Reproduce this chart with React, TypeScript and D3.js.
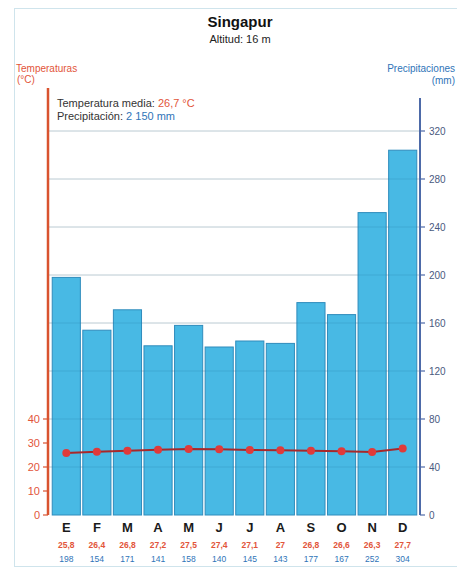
import React from 'react';
import * as d3 from 'd3';

const months = ['E', 'F', 'M', 'A', 'M', 'J', 'J', 'A', 'S', 'O', 'N', 'D'];
const precipitation = [198, 154, 171, 141, 158, 140, 145, 143, 177, 167, 252, 304];
const temperature = [25.8, 26.4, 26.8, 27.2, 27.5, 27.4, 27.1, 27, 26.8, 26.6, 26.3, 27.7];
const tempLabels = ['25,8', '26,4', '26,8', '27,2', '27,5', '27,4', '27,1', '27', '26,8', '26,6', '26,3', '27,7'];
const precipTicks = [0, 40, 80, 120, 160, 200, 240, 280, 320];
const tempTicks = [0, 10, 20, 30, 40];

const W = 457;
const H = 570;
const font = '"Liberation Sans", Arial, sans-serif';
const RED = '#e2553a';
const BLUE = '#2f74b8';

export default function App() {
  const baseY = 515;
  const x = d3.scaleBand<number>()
    .domain(d3.range(12))
    .range([51, 418])
    .paddingInner(0.08)
    .paddingOuter(0.04);
  const yP = d3.scaleLinear().domain([0, 320]).range([baseY, 131]);
  // 1 °C = 2 mm
  const yT = d3.scaleLinear().domain([0, 40]).range([baseY, yP(80)]);

  const line = d3.line<number>()
    .x((_, i) => x(i)! + x.bandwidth() / 2)
    .y(d => yT(d));

  const leftX = 48;
  const rightX = 420;

  return (
    <svg width={W} height={H} style={{ position: 'absolute', left: 0, top: 0, background: '#fff' }}
      fontFamily={font}>
      <rect x={14.5} y={8.5} width={460} height={558} fill="none" stroke="#cfe4ec" strokeWidth={1} />

      <text x={240} y={27} textAnchor="middle" fontSize={15} fontWeight="bold" fill="#111">Singapur</text>
      <text x={240} y={43} textAnchor="middle" fontSize={11} fill="#222">Altitud: 16 m</text>

      <text x={16} y={72} fontSize={10} fill={RED}>Temperaturas</text>
      <text x={17} y={83} fontSize={10} fill={RED}>(°C)</text>
      <text x={455} y={72} fontSize={10} fill={BLUE} textAnchor="end">Precipitaciones</text>
      <text x={455} y={84} fontSize={10} fill={BLUE} textAnchor="end">(mm)</text>

      {/* grid lines */}
      {precipTicks.filter(t => t > 0).map(t => (
        <line key={'g' + t} x1={leftX} x2={rightX} y1={yP(t)} y2={yP(t)} stroke="#e4e4e4" strokeWidth={1} />
      ))}

      {/* bars */}
      {precipitation.map((p, i) => (
        <rect key={'b' + i} x={x(i)} y={yP(p)} width={x.bandwidth()} height={baseY - yP(p)}
          fill="#48b9e4" stroke="#2f8cbc" strokeWidth={1} />
      ))}

      {/* grid lines over bars */}
      {precipTicks.filter(t => t > 0).map(t => (
        <line key={'go' + t} x1={leftX} x2={rightX} y1={yP(t)} y2={yP(t)} stroke="#1f6f99" strokeOpacity={0.2} strokeWidth={1} />
      ))}

      <text x={57} y={107} fontSize={11} fill="#333">
        Temperatura media: <tspan fill={RED}>26,7 °C</tspan>
      </text>
      <text x={57} y={120} fontSize={11} fill="#333">
        Precipitación: <tspan fill={BLUE}>2 150 mm</tspan>
      </text>

      {/* temperature axis */}
      <line x1={leftX} x2={leftX} y1={88} y2={baseY} stroke="#d9532f" strokeWidth={2.5} />
      {tempTicks.map(t => (
        <g key={'tt' + t}>
          <line x1={leftX - 5} x2={leftX} y1={yT(t)} y2={yT(t)} stroke="#d9532f" strokeWidth={1.2} />
          <text x={leftX - 8} y={yT(t) + 4} fontSize={11} textAnchor="end" fill={RED}>{t}</text>
        </g>
      ))}

      {/* precipitation axis */}
      <line x1={rightX} x2={rightX} y1={98} y2={baseY} stroke="#4d6aa8" strokeWidth={2} />
      {precipTicks.map(t => (
        <g key={'pt' + t}>
          <line x1={rightX} x2={rightX + 5} y1={yP(t)} y2={yP(t)} stroke="#4d6aa8" strokeWidth={1.2} />
          <text x={rightX + 9} y={yP(t) + 4} fontSize={10} fill="#4a5a80">{t}</text>
        </g>
      ))}

      {/* temperature line */}
      <path d={line(temperature) || ''} fill="none" stroke="#a8282a" strokeWidth={2} />
      {temperature.map((t, i) => (
        <circle key={'c' + i} cx={x(i)! + x.bandwidth() / 2} cy={yT(t)} r={4} fill="#e03a3a" />
      ))}

      {/* month labels and values */}
      {months.map((m, i) => (
        <g key={'m' + i}>
          <text x={x(i)! + x.bandwidth() / 2} y={532} textAnchor="middle" fontSize={13} fontWeight="bold" fill="#1a1a1a">{m}</text>
          <text x={x(i)! + x.bandwidth() / 2} y={548} textAnchor="middle" fontSize={8.5} fontWeight="bold" fill={RED}>{tempLabels[i]}</text>
          <text x={x(i)! + x.bandwidth() / 2} y={562} textAnchor="middle" fontSize={8.5} fill={BLUE}>{precipitation[i]}</text>
        </g>
      ))}
    </svg>
  );
}
